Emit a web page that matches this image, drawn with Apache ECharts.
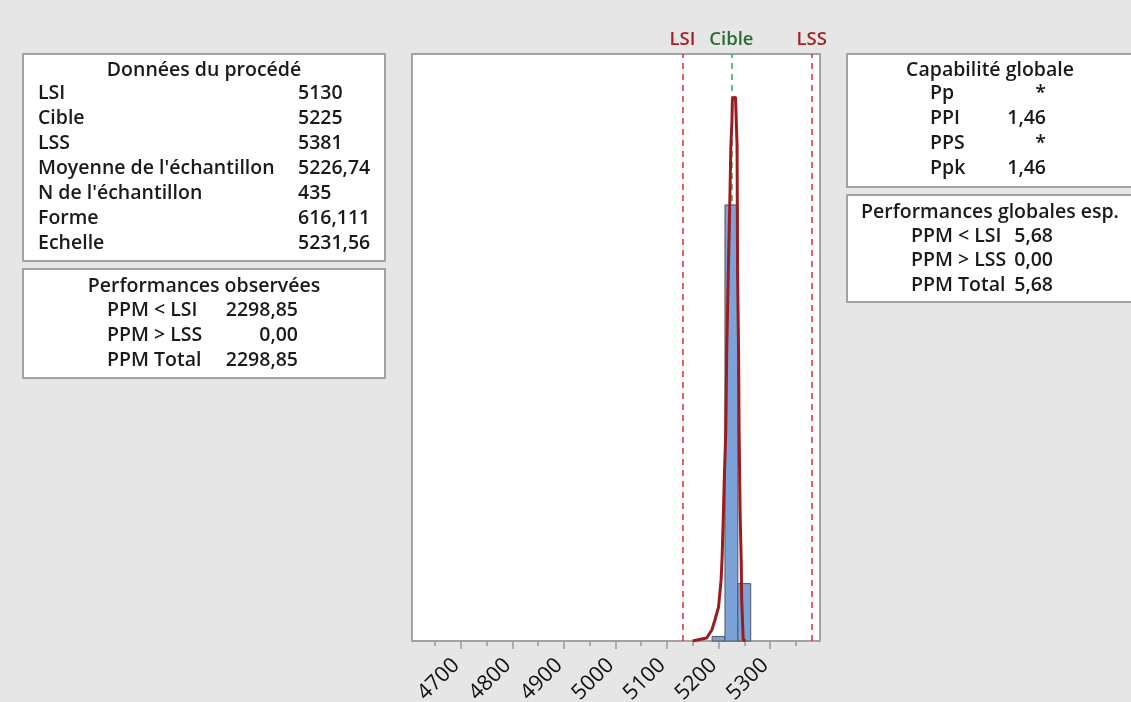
<!DOCTYPE html>
<html>
<head>
<meta charset="utf-8">
<script src="https://cdn.jsdelivr.net/npm/echarts@6/dist/echarts.min.js"></script>
<style>
html,body{margin:0;padding:0;background:#e6e6e6;}
#chart{width:1131px;height:702px;}
</style>
</head>
<body>
<div id="chart"></div>
<script>
// ---- Data ----
const binStarts = [5187.5, 5212.5, 5237.5];
const binEnds   = [5212.5, 5237.5, 5262.5];
const binCounts = [4, 380, 50];

const curveX = [5150, 5154, 5177, 5187, 5193, 5200, 5205, 5207, 5209, 5211, 5214, 5216, 5219, 5222, 5224, 5226, 5227, 5230, 5233, 5236, 5237, 5239, 5240, 5242, 5244, 5245, 5248, 5252];
const curveY = [0, 0.5, 2.6, 9.6, 18.3, 29.6, 53, 73, 103, 138, 181, 254, 321, 384, 432, 452, 473, 474, 474, 432, 321, 250, 181, 110, 71, 36, 1, 0];

const specNames  = ['LSI', 'Cible', 'LSS'];
const specValues = [5130, 5225, 5381];

const xMajorTicks = [4700, 4800, 4900, 5000, 5100, 5200, 5300];
const xMinorTicks = [4650, 4750, 4850, 4950, 5050, 5150, 5250, 5350];
const xMin = 4605, xMax = 5397, yMax = 511.5;

const processTitle  = 'Données du procédé';
const processLabels = ['LSI', 'Cible', 'LSS', "Moyenne de l'échantillon", "N de l'échantillon", 'Forme', 'Echelle'];
const processValues = ['5130', '5225', '5381', '5226,74', '435', '616,111', '5231,56'];

const observedTitle  = 'Performances observées';
const observedLabels = ['PPM < LSI', 'PPM > LSS', 'PPM Total'];
const observedValues = ['2298,85', '0,00', '2298,85'];

const capTitle  = 'Capabilité globale';
const capLabels = ['Pp', 'PPI', 'PPS', 'Ppk'];
const capValues = ['*', '1,46', '*', '1,46'];

const expTitle  = 'Performances globales esp.';
const expLabels = ['PPM < LSI', 'PPM > LSS', 'PPM Total'];
const expValues = ['5,68', '0,00', '5,68'];

// ---- Styling ----
const FONT = '"Open Sans", "Noto Sans", sans-serif';
const TXT = '#1a1a1a';
const FS = 19.5;
const FW = 600;
const boxBorder = '#a3a3a3';

function box(x, y, w, h) {
  return {type: 'rect', shape: {x: x, y: y, width: w, height: h},
    style: {fill: '#ffffff', stroke: boxBorder, lineWidth: 2}, z: 1};
}
function txt(text, x, y, align) {
  return {type: 'text', x: x, y: y, z: 2,
    style: {text: text, fill: TXT, font: FW + ' ' + FS + 'px ' + FONT, textAlign: align || 'left', textVerticalAlign: 'middle'}};
}

const graphics = [];
// Box 1
graphics.push(box(23, 54, 362, 207));
graphics.push(txt(processTitle, 204, 70, 'center'));
processLabels.forEach((l, i) => {
  graphics.push(txt(l, 38, 93 + 25 * i));
  graphics.push(txt(processValues[i], 298, 93 + 25 * i));
});
// Box 2
graphics.push(box(23, 269, 362, 109));
graphics.push(txt(observedTitle, 204, 286, 'center'));
observedLabels.forEach((l, i) => {
  graphics.push(txt(l, 107, 310 + 25 * i));
  graphics.push(txt(observedValues[i], 298, 310 + 25 * i, 'right'));
});
// Box 3
graphics.push(box(847, 54, 290, 133));
graphics.push(txt(capTitle, 990, 70, 'center'));
capLabels.forEach((l, i) => {
  graphics.push(txt(l, 930, 93 + 25 * i));
  graphics.push(txt(capValues[i], 1046, 93 + 25 * i, 'right'));
});
// Box 4
graphics.push(box(847, 195, 290, 107));
graphics.push(txt(expTitle, 990, 212, 'center'));
expLabels.forEach((l, i) => {
  graphics.push(txt(l, 911, 236 + 24.5 * i));
  graphics.push(txt(expValues[i], 1053, 236 + 24.5 * i, 'right'));
});

const histData = binStarts.map((s, i) => [s, binEnds[i], binCounts[i]]);
const curveData = curveX.map((x, i) => [x, curveY[i]]);

const specColors = ['#e3262f', '#3aa552', '#e3262f'];
const specLabelColors = ['#a3222a', '#2b6b34', '#a3222a'];

const chart = echarts.init(document.getElementById('chart'));
chart.setOption({
  backgroundColor: '#e6e6e6',
  animation: false,
  textStyle: {fontFamily: FONT},
  grid: {left: 412, top: 54, width: 408, height: 587, show: true, containLabel: false,
    outerBoundsMode: 'none',
    backgroundColor: '#ffffff', borderColor: '#a3a3a3', borderWidth: 2},
  xAxis: [{
    type: 'value', min: xMin, max: xMax,
    splitLine: {show: false},
    axisLine: {show: true, lineStyle: {color: '#a3a3a3', width: 2}},
    axisTick: {show: true, length: 8, lineStyle: {color: '#999999', width: 1.5}, customValues: xMajorTicks},
    axisLabel: {show: true, rotate: 45, fontSize: 21.5, color: '#111111', margin: 16, customValues: xMajorTicks,
      padding: [0, 7, 0, 0],
      fontFamily: FONT, formatter: function (v) { return String(v); }}
  }, {
    type: 'value', min: xMin, max: xMax, position: 'bottom',
    splitLine: {show: false},
    axisLine: {show: false},
    axisTick: {show: true, length: 5, lineStyle: {color: '#999999', width: 1.5}, customValues: xMinorTicks},
    axisLabel: {show: false}
  }],
  yAxis: {type: 'value', min: 0, max: yMax, show: false, splitLine: {show: false}},
  graphic: graphics,
  series: [
    {
      type: 'line', data: [], z: 1, silent: true,
      markLine: {
        z: 1,
        symbol: 'none', silent: true, animation: false,
        data: specValues.map((v, i) => ({
          xAxis: v,
          lineStyle: {color: specColors[i], type: [6, 5], width: 1.5},
          label: {show: true, position: 'end', formatter: specNames[i], color: specLabelColors[i],
            fontSize: 18.5, fontWeight: 600, fontFamily: FONT, distance: 5}
        }))
      }
    },
    {
      type: 'custom', z: 3,
      data: histData,
      renderItem: function (params, api) {
        const p0 = api.coord([api.value(0), api.value(2)]);
        const p1 = api.coord([api.value(1), 0]);
        return {type: 'rect', shape: {x: p0[0], y: p0[1], width: p1[0] - p0[0], height: p1[1] - p0[1]},
          style: {fill: '#7ba3da', stroke: '#555555', lineWidth: 1}};
      }
    },
    {
      type: 'line', z: 4, data: curveData, showSymbol: false, smooth: false,
      lineStyle: {color: '#9b1b1e', width: 3}
    }
  ]
});
</script>
</body>
</html>
